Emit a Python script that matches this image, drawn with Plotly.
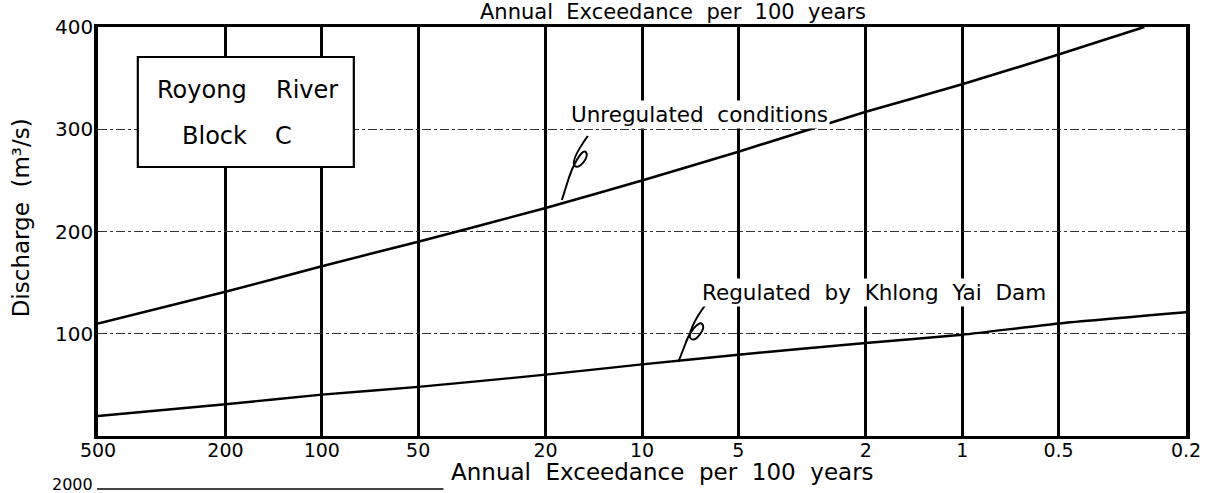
import math
import plotly.graph_objects as go

# ---------------- data ----------------
exceed_ticks = [500, 200, 100, 50, 20, 10, 5, 2, 1, 0.5, 0.2]
exceed_tick_labels = ["500", "200", "100", "50", "20", "10", "5", "2", "1", "0.5", "0.2"]
discharge_ticks = [100, 200, 300, 400]

unreg_x = [500, 200, 100, 50, 20, 10, 5, 2, 1, 0.5, 0.27]
unreg_y = [110, 141, 166, 190, 223, 250, 278, 317, 344, 373, 400]

reg_x = [500, 200, 100, 50, 20, 10, 5, 2, 1, 0.5, 0.2]
reg_y = [19.5, 31, 40.5, 48, 60, 70, 79.5, 91, 99, 110, 121]

# ---------------- layout geometry (page pixels) ----------------
W, H = 1213, 493
L, R, T, B = 98, 22, 27, 57
PW, PH = W - L - R, H - T - B
FONT = "DejaVu Sans"
NB = "\u00a0"


def px(x):
    return (x - L) / PW


def py(y):
    return (H - B - y) / PH


def path(points):
    out = []
    for cmd, pts in points:
        coords = " ".join(f"{px(a):.5f},{py(b):.5f}" for a, b in pts)
        out.append(f"{cmd} {coords}")
    return " ".join(out)


fig = go.Figure()
fig.add_trace(go.Scatter(x=unreg_x, y=unreg_y, mode="lines",
                         line=dict(color="black", width=2.6, shape="spline", smoothing=0.6),
                         showlegend=False, hoverinfo="skip"))
fig.add_trace(go.Scatter(x=reg_x, y=reg_y, mode="lines",
                         line=dict(color="black", width=2.4, shape="spline", smoothing=0.6),
                         showlegend=False, hoverinfo="skip"))

shapes = []
shapes.append(dict(type="rect", xref="paper", yref="paper",
                   x0=px(138), x1=px(355), y0=py(167), y1=py(57),
                   line=dict(color="black", width=2.2), fillcolor="white", layer="above"))
shapes.append(dict(type="path", xref="paper", yref="paper", layer="above",
                   line=dict(color="black", width=2),
                   path=path([("M", [(564, 200)]),
                              ("L", [(571, 178)]),
                              ("C", [(574, 168), (584, 148), (588, 152)]),
                              ("C", [(592, 156), (582, 170), (577, 166)]),
                              ("C", [(573, 162), (580, 150), (590, 136)])])))
shapes.append(dict(type="path", xref="paper", yref="paper", layer="above",
                   line=dict(color="black", width=2),
                   path=path([("M", [(681, 362)]),
                              ("L", [(688, 344)]),
                              ("C", [(691, 334), (701, 320), (705, 324)]),
                              ("C", [(709, 328), (699, 342), (694, 339)]),
                              ("C", [(689, 336), (698, 318), (709, 304)])])))
shapes.append(dict(type="line", xref="paper", yref="paper",
                   x0=px(97), x1=px(445), y0=py(489), y1=py(489),
                   line=dict(color="#444", width=2)))
fig.update_layout(shapes=shapes)


def txt(text, x, y, size, xanchor="left", angle=0, bg=None):
    d = dict(text=text, x=px(x), y=py(y), xref="paper", yref="paper", showarrow=False,
             font=dict(size=size, color="black", family=FONT), xanchor=xanchor,
             yanchor="middle", textangle=angle)
    if bg:
        d["bgcolor"] = bg
        d["borderpad"] = 1
    return d


ann = [
    txt("Royong", 155, 90, 24),
    txt("River", 275, 90, 24),
    txt("Block", 180, 136, 24),
    txt("C", 274, 136, 24),
    txt(f"Unregulated{NB}{NB}conditions", 571, 114, 21.5, bg="white"),
    txt(f"Regulated{NB}{NB}by{NB}{NB}Khlong{NB}{NB}Yai{NB}{NB}Dam", 703, 292, 21.5, bg="white"),
]
title_txt = f"Annual{NB}{NB}Exceedance{NB}{NB}per{NB}{NB}100{NB}{NB}years"
ann.append(txt(title_txt, 665, 472, 23, xanchor="center"))
ann.append(txt(title_txt, 676, 12, 21, xanchor="center"))
ann.append(txt(f"Discharge{NB}{NB}(m³/s)", 21, 218, 23, xanchor="center", angle=-90))
ann.append(txt("2000", 95, 484, 16, xanchor="right"))
fig.update_layout(annotations=ann)

fig.update_xaxes(type="log", range=[math.log10(500), math.log10(0.2)],
                 tickvals=exceed_ticks, ticktext=exceed_tick_labels, ticks="",
                 tickfont=dict(size=19, color="black", family=FONT),
                 ticklabelstandoff=-5,
                 showgrid=True, gridcolor="black", gridwidth=3,
                 showline=True, linecolor="black", linewidth=2.5, mirror=True,
                 zeroline=False)
fig.update_yaxes(range=[0, 400], tickvals=discharge_ticks, ticks="",
                 tickfont=dict(size=20, color="black", family=FONT),
                 ticklabelstandoff=-3,
                 showgrid=True, gridcolor="#333", gridwidth=1, griddash="dashdot",
                 showline=True, linecolor="black", linewidth=3.5, mirror=True,
                 zeroline=False)

fig.update_layout(width=W, height=H,
                  margin=dict(l=L, r=R, t=T, b=B),
                  paper_bgcolor="white", plot_bgcolor="white",
                  font=dict(family=FONT, color="black"))

fig.write_html("out.html", config={"displayModeBar": False},
               post_script="document.body.style.margin='0';")
